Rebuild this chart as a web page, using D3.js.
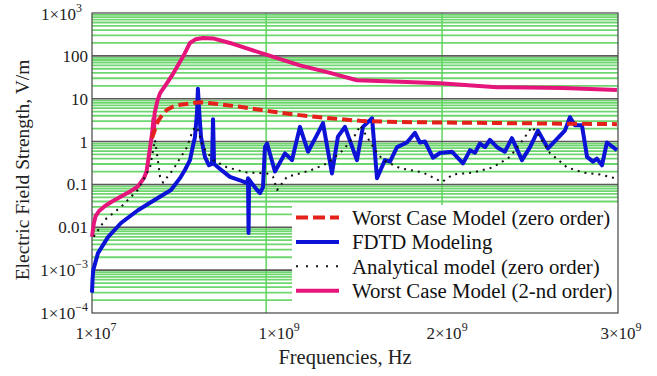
<!DOCTYPE html>
<html>
<head>
<meta charset="utf-8">
<script src="https://cdn.jsdelivr.net/npm/d3@7"></script>
<style>
  html, body { margin: 0; padding: 0; background: #fff; }
  svg { display: block; font-family: "Liberation Serif", "Times New Roman", serif; }
</style>
</head>
<body>
<svg id="chart" width="657" height="376"></svg>
<script>
// frequencies in MHz, field strength in V/m
const pinkF = [10, 20, 30, 50, 82, 124, 175, 226, 271, 305, 320, 338, 352, 360, 363, 366, 383, 397, 436, 465, 493, 530, 567, 600, 641, 698, 794, 1005, 1192, 1363, 1516, 1761, 1988, 2312, 2687, 2994];
const pinkV = [0.006, 0.012, 0.018, 0.024, 0.031, 0.040, 0.052, 0.068, 0.090, 0.14, 0.20, 0.63, 1.6, 3.5, 2.0, 4.6, 9.3, 13.5, 23, 35, 55, 100, 200, 245, 260, 255, 200, 105, 60, 40, 27, 25, 23, 18.6, 17.8, 16];

const redF = [351, 368, 385, 414, 436, 470, 510, 624, 738, 851, 965, 1152, 1363, 1550, 1761, 2119, 2556, 2994];
const redV = [1.2, 1.9, 3.0, 4.5, 5.5, 6.5, 7.2, 8.3, 7.4, 6.5, 5.5, 4.3, 3.5, 3.0, 2.85, 2.75, 2.65, 2.55];

const blueF = [10, 13, 17, 44, 101, 175, 271, 368, 459, 510, 539, 567, 584, 595, 607, 612, 621, 630, 652, 675, 692, 698, 704, 738, 794, 851, 891, 897, 900, 903, 908, 948, 965, 982, 993, 1005, 1050, 1107, 1147, 1192, 1238, 1295, 1323, 1374, 1408, 1448, 1516, 1550, 1602, 1630, 1675, 1704, 1744, 1800, 1846, 1874, 1903, 1948, 1988, 2056, 2119, 2159, 2187, 2215, 2244, 2272, 2312, 2357, 2397, 2454, 2500, 2545, 2602, 2698, 2727, 2755, 2795, 2824, 2858, 2880, 2909, 2937, 2994];
const blueV = [3.0e-4, 6e-4, 1.0e-3, 2.5e-3, 5.9e-3, 0.0126, 0.025, 0.044, 0.074, 0.14, 0.22, 0.37, 0.8, 1.25, 4.7, 17, 4, 1.25, 0.44, 0.28, 0.30, 3.3, 0.30, 0.23, 0.15, 0.125, 0.107, 0.14, 0.0074, 0.13, 0.12, 0.074, 0.063, 0.087, 0.74, 0.9, 0.20, 0.53, 0.37, 2.2, 0.58, 1.6, 2.7, 0.18, 1.3, 2.2, 0.37, 2.2, 3.5, 0.14, 0.37, 0.34, 0.74, 0.95, 1.6, 0.95, 1.0, 0.42, 0.54, 0.58, 0.31, 0.63, 0.55, 0.9, 0.74, 1.1, 0.74, 0.58, 1.2, 0.37, 0.74, 1.8, 0.69, 1.8, 3.7, 2.4, 2.4, 0.44, 0.34, 0.4, 0.28, 0.95, 0.63];

const blackF = [20, 84, 175, 271, 340, 368, 385, 397, 414, 470, 550, 584, 607, 641, 698, 777, 891, 1005, 1039, 1062, 1118, 1249, 1346, 1437, 1516, 1533, 1573, 1619, 1664, 1761, 1891, 1999, 2062, 2176, 2289, 2386, 2460, 2511, 2556, 2613, 2710, 2801, 2898, 2983];
const blackV = [0.006, 0.015, 0.030, 0.075, 0.25, 1.1, 0.35, 0.15, 0.11, 0.22, 0.74, 1.9, 2.2, 0.74, 0.37, 0.25, 0.19, 0.18, 0.15, 0.074, 0.15, 0.21, 0.31, 0.63, 1.6, 2.4, 1.3, 0.63, 0.37, 0.24, 0.19, 0.114, 0.17, 0.19, 0.25, 0.44, 1.1, 2.2, 1.3, 0.54, 0.25, 0.19, 0.17, 0.14];

const xTicks = [1e7, 1e9, 2e9, 3e9];
const xTickLabels = [["1×10", "7"], ["1×10", "9"], ["2×10", "9"], ["3×10", "9"]];
const yTicks = [1e3, 100, 10, 1, 0.1, 0.01, 1e-3, 1e-4];
const yTickLabels = [["1×10", "3"], ["100", ""], ["10", ""], ["1", ""], ["0.1", ""], ["0.01", ""], ["1×10", "−3"], ["1×10", "−4"]];

const legendNames = ["Worst Case Model (zero order)", "FDTD Modeling", "Analytical model (zero order)", "Worst Case Model (2-nd order)"];

const svg = d3.select('#chart');
const plotL = 92, plotR = 618, plotT = 13, plotB = 313;

const x = d3.scaleLinear().domain([1e7, 3e9]).range([plotL, plotR]);
const y = d3.scaleLog().domain([1e-4, 1e3]).range([plotB, plotT]);

// grid: minor log lines in green, decades in grey
const grid = svg.append('g');
const minors = [];
for (let d = -4; d < 3; d++) for (let k = 2; k <= 9; k++) minors.push(k * Math.pow(10, d));
grid.selectAll('line.minor')
  .data(minors)
  .join('line')
  .attr('x1', plotL).attr('x2', plotR)
  .attr('y1', v => y(v)).attr('y2', v => y(v))
  .attr('stroke', '#6ed66e').attr('stroke-width', 1.8);
grid.selectAll('line.vert')
  .data([1e9, 2e9])
  .join('line')
  .attr('x1', v => x(v)).attr('x2', v => x(v))
  .attr('y1', plotT).attr('y2', plotB)
  .attr('stroke', '#5cd65c').attr('stroke-width', 1.5);
grid.selectAll('line.major')
  .data(yTicks.slice(1, -1))
  .join('line')
  .attr('x1', plotL).attr('x2', plotR)
  .attr('y1', v => y(v)).attr('y2', v => y(v))
  .attr('stroke', '#5a5a5a').attr('stroke-width', 1.6);

// legend background hides the grid
svg.append('rect')
  .attr('x', 292).attr('y', 205).attr('width', plotR - 292).attr('height', plotB - 205)
  .attr('fill', '#fff');

svg.append('rect')
  .attr('x', plotL).attr('y', plotT).attr('width', plotR - plotL).attr('height', plotB - plotT)
  .attr('fill', 'none').attr('stroke', '#444').attr('stroke-width', 1.2);

const line = d3.line().x(d => x(d[0] * 1e6)).y(d => y(d[1]));
const series = [
  { f: pinkF, v: pinkV, color: '#e5157b', width: 4, dash: null },
  { f: blueF, v: blueV, color: '#0c12d6', width: 4, dash: null },
  { f: blackF, v: blackV, color: '#111', width: 2, dash: '2,5' },
  { f: redF, v: redV, color: '#e4211b', width: 4, dash: '10,5' }
];
svg.append('g')
  .selectAll('path')
  .data(series)
  .join('path')
  .attr('d', s => line(s.f.map((f, i) => [f, s.v[i]])))
  .attr('fill', 'none')
  .attr('stroke', s => s.color)
  .attr('stroke-width', s => s.width)
  .attr('stroke-dasharray', s => s.dash)
  .attr('stroke-linejoin', 'round');

// y tick labels
const yl = svg.append('g').selectAll('text')
  .data(yTicks)
  .join('text')
  .attr('x', (v, i) => i === 0 ? 82 : 88)
  .attr('y', (v, i) => y(v) + (i === 0 ? 7 : 6))
  .attr('text-anchor', 'end')
  .attr('font-size', 17)
  .attr('fill', '#222');
yl.append('tspan').text((v, i) => yTickLabels[i][0]);
yl.append('tspan').attr('dy', -8).attr('font-size', 12).text((v, i) => yTickLabels[i][1]);

// x tick labels
const xOffsets = [4, 13, 5, 3];
const xl = svg.append('g').selectAll('text')
  .data(xTicks)
  .join('text')
  .attr('x', (v, i) => x(v) + xOffsets[i])
  .attr('y', 339)
  .attr('text-anchor', 'middle')
  .attr('font-size', 17)
  .attr('fill', '#222');
xl.append('tspan').text((v, i) => xTickLabels[i][0]);
xl.append('tspan').attr('dy', -8).attr('font-size', 12).text((v, i) => xTickLabels[i][1]);

svg.append('text')
  .attr('x', 345).attr('y', 364)
  .attr('text-anchor', 'middle')
  .attr('font-size', 20.5).attr('fill', '#222')
  .text('Frequencies, Hz');

svg.append('text')
  .attr('transform', 'translate(29,170) rotate(-90)')
  .attr('text-anchor', 'middle')
  .attr('font-size', 19.5).attr('fill', '#222')
  .text('Electric Field Strength, V/m');

// legend
const legendStyle = [series[3], series[1], series[2], series[0]];
const lg = svg.append('g').selectAll('g')
  .data(legendNames)
  .join('g')
  .attr('transform', (d, i) => `translate(0,${217.5 + i * 24.4})`);
lg.append('line')
  .attr('x1', 296).attr('x2', 339).attr('y1', 0).attr('y2', 0)
  .attr('stroke', (d, i) => legendStyle[i].color)
  .attr('stroke-width', (d, i) => legendStyle[i].width)
  .attr('stroke-dasharray', (d, i) => i === 0 ? '12,5' : (i === 2 ? '2,8' : null));
lg.append('text')
  .attr('x', 352).attr('y', 7.5)
  .attr('font-size', 20.8).attr('fill', '#111')
  .text(d => d);
</script>
</body>
</html>
